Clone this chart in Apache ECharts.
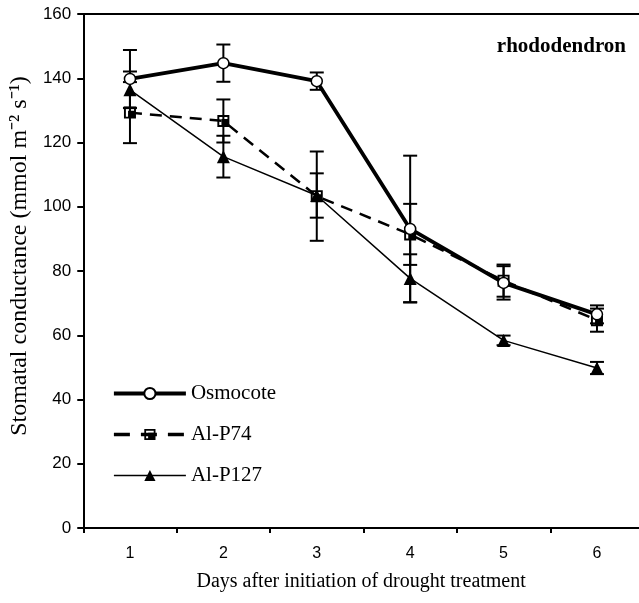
<!DOCTYPE html>
<html lang="en">
<head>
  <meta charset="UTF-8">
  <title>Stomatal conductance</title>
  <script src="https://cdn.jsdelivr.net/npm/echarts@6/dist/echarts.min.js"></script>
  <style>
    html, body { margin: 0; padding: 0; background: #fff; }
  </style>
</head>
<body>
  <div id="chart" style="width: 639px; height: 603px"></div>

  <script>
    const days = [1, 2, 3, 4, 5, 6]
    const osmocote = [139.8, 144.7, 139.1, 93.1, 76.3, 66.5]
    const osmocoteErr = [9.0, 5.8, 2.7, 22.8, 5.2, 2.8]
    const alp74 = [129.3, 126.7, 103.3, 91.4, 77.0, 64.7]
    const alp74Err = [9.5, 6.7, 13.9, 9.5, 5.0, 3.6]
    const alp127 = [136.4, 115.6, 103.5, 77.7, 58.4, 49.8]
    const alp127Err = [5.7, 6.5, 6.9, 7.5, 1.5, 1.9]
    const yTicks = [0, 20, 40, 60, 80, 100, 120, 140, 160]

    const dom = document.getElementById('chart')
    const myChart = echarts.init(dom)

    const serif = '"Liberation Serif", "Times New Roman", serif'
    const sans = '"Liberation Sans", Arial, sans-serif'
    // 空心方框里带实心小方块
    const halfSquare = 'path://M0,0L10,0L10,10L0,10Z M1.6,1.6L1.6,8.4L8.4,8.4L8.4,1.6Z M3.4,3.4L8.4,3.4L8.4,8.4L3.4,8.4Z'

    function pairs(vals) {
      return days.map((d, i) => [d, vals[i]])
    }

    function errData(vals, errs) {
      return days.map((d, i) => [d, vals[i] - errs[i], vals[i] + errs[i]])
    }

    function errSeries(vals, errs) {
      return {
        type: 'custom',
        z: 1,
        silent: true,
        data: errData(vals, errs),
        encode: { x: 0, y: [1, 2] },
        renderItem: (params, api) => {
          const x = api.value(0)
          const lo = api.coord([x, api.value(1)])
          const hi = api.coord([x, api.value(2)])
          const w = 7
          const style = { stroke: '#000', lineWidth: 2 }
          return {
            type: 'group',
            children: [
              { type: 'line', shape: { x1: lo[0], y1: lo[1], x2: hi[0], y2: hi[1] }, style },
              { type: 'line', shape: { x1: hi[0] - w, y1: hi[1], x2: hi[0] + w, y2: hi[1] }, style },
              { type: 'line', shape: { x1: lo[0] - w, y1: lo[1], x2: lo[0] + w, y2: lo[1] }, style }
            ]
          }
        }
      }
    }

    const option = {
      animation: false,
      title: {
        text: 'rhododendron',
        right: 13,
        top: 36,
        padding: 0,
        textStyle: { fontFamily: serif, fontWeight: 'bold', fontSize: 21, color: '#000' }
      },
      grid: { left: 83, right: 0, top: 14, bottom: 75 },
      legend: {
        orient: 'vertical',
        left: 112,
        top: 383,
        padding: 0,
        itemWidth: 72,
        itemHeight: 14,
        itemGap: 20,
        textStyle: { fontFamily: serif, fontSize: 21, color: '#000', padding: [0, 0, 0, 0] },
        data: [
          { name: 'Osmocote', lineStyle: { width: 3.8 } },
          { name: 'Al-P74', lineStyle: { width: 3.5, type: [16, 11] } },
          { name: 'Al-P127', lineStyle: { width: 1.5 } }
        ]
      },
      xAxis: [
        {
          type: 'value',
          min: 0.5,
          max: 6.45,
          name: 'Days after initiation of drought treatment',
          nameLocation: 'middle',
          nameGap: 44,
          nameTextStyle: { fontFamily: serif, fontSize: 20, color: '#000' },
          axisLine: { show: true, onZero: false, lineStyle: { color: '#000', width: 2 } },
          axisTick: { show: true, length: 5, lineStyle: { color: '#000', width: 2 }, customValues: [0.5, 1.5, 2.5, 3.5, 4.5, 5.5] },
          axisLabel: { customValues: days, margin: 18, fontFamily: sans, fontSize: 16, color: '#000' },
          splitLine: { show: false }
        },
        {
          type: 'value',
          position: 'top',
          min: 0.5,
          max: 6.45,
          axisLine: { show: true, onZero: false, lineStyle: { color: '#000', width: 2 } },
          axisTick: { show: false },
          axisLabel: { show: false },
          splitLine: { show: false }
        }
      ],
      yAxis: {
        type: 'value',
        min: 0,
        max: 160,
        interval: 20,
        name: 'Stomatal conductance (mmol m\u207B\u00B2 s\u207B\u00B9)',
        nameLocation: 'middle',
        nameGap: 50,
        nameTextStyle: { fontFamily: serif, fontSize: 24, color: '#000', padding: [0, 0, 0, 30] },
        axisLine: { show: true, lineStyle: { color: '#000', width: 2 } },
        axisTick: { show: true, length: 6, lineStyle: { color: '#000', width: 2 }, customValues: yTicks },
        axisLabel: { customValues: yTicks, margin: 12, fontFamily: sans, fontSize: 17, color: '#000' },
        splitLine: { show: false }
      },
      series: [
        errSeries(osmocote, osmocoteErr),
        errSeries(alp74, alp74Err),
        errSeries(alp127, alp127Err),
        {
          name: 'Al-P127',
          type: 'line',
          data: pairs(alp127),
          symbol: 'triangle',
          symbolSize: 13,
          lineStyle: { color: '#000', width: 1.5 },
          itemStyle: { color: '#000', borderWidth: 0 }
        },
        {
          name: 'Al-P74',
          type: 'line',
          data: pairs(alp74),
          symbol: halfSquare,
          symbolSize: 12,
          lineStyle: { color: '#000', width: 2.5, type: [12, 8] },
          itemStyle: { color: '#000', borderWidth: 0 }
        },
        {
          name: 'Osmocote',
          type: 'line',
          data: pairs(osmocote),
          symbol: 'circle',
          symbolSize: 11,
          lineStyle: { color: '#000', width: 3.8 },
          itemStyle: { color: '#fff', borderColor: '#000', borderWidth: 1.5 }
        }
      ]
    }

    myChart.setOption(option)
  </script>
</body>
</html>
